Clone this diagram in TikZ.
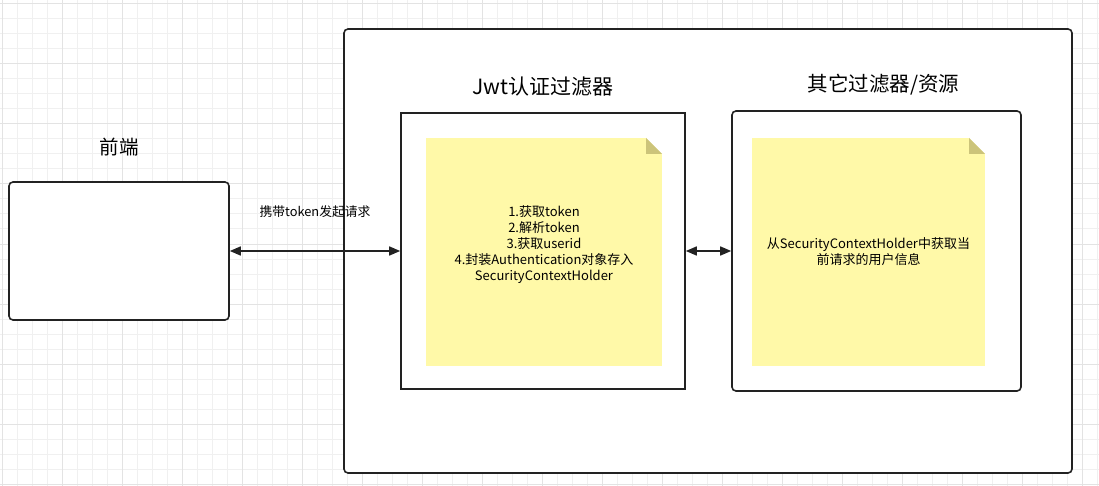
\documentclass[tikz,border=0pt]{standalone}
\usepackage{fontspec}
\setmainfont{Noto Sans CJK SC}
\usepackage{tikz}
\usetikzlibrary{positioning, arrows.meta, calc}
\definecolor{gridminor}{HTML}{F0F0F0}
\definecolor{gridmajor}{HTML}{E3E3E3}
\definecolor{notebg}{HTML}{FFF9A8}
\definecolor{notefold}{HTML}{CCC47A}
\definecolor{linecol}{HTML}{222222}
\tikzset{
    box/.style={
        rectangle, draw=linecol, line width=1.6pt,
        fill=white, rounded corners=4pt
    },
    note/.style={
        rectangle, fill=notebg, align=center,
        minimum height=228pt, inner sep=0pt,
        font=\fontsize{13}{16}\selectfont,
        path picture={
            \fill[white] (path picture bounding box.north east) -- ++(-16,0) -- ++(16,16) -- cycle;
            \fill[notefold] ($(path picture bounding box.north east)+(-16,0)$) -- ++(0,16) -- ++(16,0) -- cycle;
        }
    },
    title/.style={
        inner sep=0pt, font=\fontsize{20.5}{22}\selectfont
    },
    link/.style={
        {Triangle[length=11pt,width=9pt]}-{Triangle[length=11pt,width=9pt]},
        draw=linecol, line width=1.6pt
    }
}

\begin{document}
\begin{tikzpicture}[x=1pt, y=-1pt]
\useasboundingbox (0,0) rectangle (1099,486);

% grid
\foreach \x in {2.5,17.5,...,1099} \draw[gridminor, line width=1pt] (\x,0) -- (\x,486);
\foreach \y in {4,19,...,486} \draw[gridminor, line width=1pt] (0,\y) -- (1099,\y);
\foreach \x in {2.5,62.5,...,1099} \draw[gridmajor, line width=1pt] (\x,0) -- (\x,486);
\foreach \y in {4,64,...,486} \draw[gridmajor, line width=1pt] (0,\y) -- (1099,\y);

\node[box, minimum width=728pt, minimum height=444pt] (server) at (708,251) {};

\node[box, minimum width=220pt, minimum height=138pt] (front) at (119,251) {};
\node[title, font=\fontsize{19.5}{21}\selectfont, above=25pt of front] (frontlabel) {前端};

\node[box, rounded corners=0pt, minimum width=284pt, minimum height=276pt] (jwt) at (543,251) {};
\node[title, font=\fontsize{21}{23}\selectfont, above=16pt of jwt] (jwtlabel) {Jwt认证过滤器};

\node[box, minimum width=289pt, minimum height=280pt] (other) at (876.5,251) {};
\node[title, above=15pt of other, xshift=7pt] (otherlabel) {其它过滤器/资源};

\node[note, minimum width=236pt] (jwtnote) at (544,252) {1.获取token\\2.解析token\\3.获取userid\\4.封装Authentication对象存入\\SecurityContextHolder\\[2pt]};
\node[note, minimum width=233pt] (othernote) at (868.5,252) {从SecurityContextHolder中获取当\\前请求的用户信息};

\draw[link] (front.east) -- node[midway, above=29pt, font=\fontsize{12.8}{14}\selectfont] {携带token发起请求} (jwt.west);
\draw[link] (jwt.east) -- (other.west);

\end{tikzpicture}
\end{document}
